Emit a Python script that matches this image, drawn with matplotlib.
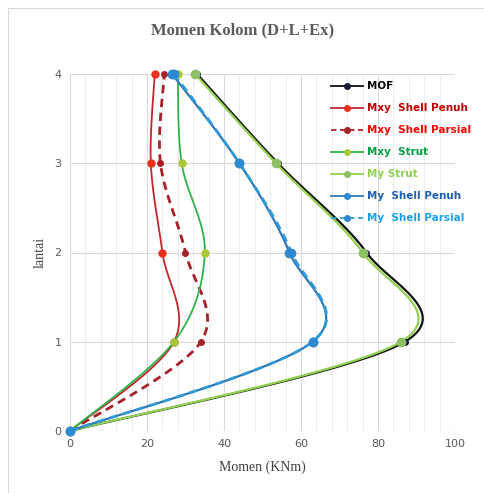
import numpy as np
import matplotlib
matplotlib.use("Agg")
import matplotlib.pyplot as plt
from matplotlib.lines import Line2D

# lantai (floor) levels
lantai = [0, 1, 2, 3, 4]

# moment values (KNm) per series
mof = [0, 87, 77, 54, 33]
mxy_shell_penuh = [0, 27, 24, 21, 22]
mxy_shell_parsial = [0, 34, 30, 23.5, 24.5]
mxy_strut = [0, 27, 35, 29, 28]
my_strut = [0, 86, 76, 53.5, 32.5]
my_shell_penuh = [0, 63, 57, 44, 26.5]
my_shell_parsial = [0, 63, 57.5, 44, 27]

labels = ["MOF", "Mxy  Shell Penuh", "Mxy  Shell Parsial", "Mxy  Strut",
          "My Strut", "My  Shell Penuh", "My  Shell Parsial"]


def smooth(x, y, n=30):
    # catmull-rom style smoothing for drawing (like excel smoothed lines)
    p = np.column_stack([x, y]).astype(float)
    p = np.vstack([p[0], p, p[-1]])
    out = []
    for i in range(1, len(p) - 2):
        p0, p1, p2, p3 = p[i - 1], p[i], p[i + 1], p[i + 2]
        c1 = p1 + (p2 - p0) / 6.0
        c2 = p2 - (p3 - p1) / 6.0
        t = np.linspace(0, 1, n)[:, None]
        seg = ((1 - t) ** 3) * p1 + 3 * ((1 - t) ** 2) * t * c1 + 3 * (1 - t) * t ** 2 * c2 + t ** 3 * p2
        out.append(seg)
    out = np.vstack(out)
    return out[:, 0], out[:, 1]


series = [
    # values, line color, marker color, linestyle, lw, msize, text color
    (mof, "#111111", "#1a1a3a", "-", 1.6, 4, "#000000"),
    (mxy_shell_penuh, "#C0262D", "#E8301C", "-", 1.3, 5, "#C00000"),
    (mxy_shell_parsial, "#A8202A", "#A8202A", (0, (3, 2)), 2.0, 4, "#FF0000"),
    (mxy_strut, "#2DB34A", "#A8C83A", "-", 1.3, 5, "#00A040"),
    (my_strut, "#92D050", "#8CC063", "-", 1.6, 6, "#92D050"),
    (my_shell_penuh, "#2E75B6", "#2E8AD0", "-", 1.6, 6, "#1F5FB0"),
    (my_shell_parsial, "#2E9AD6", "#2E8AD0", (0, (3, 2)), 2.0, 6, "#1BA0E8"),
]

fig = plt.figure(figsize=(4.85, 4.93), dpi=100)
ax = fig.add_axes([70 / 485, 1 - 431 / 493, 385 / 485, 357 / 493])

handles = []
for vals, lc, mc, ls, lw, ms, tc in series:
    sx, sy = smooth(vals, lantai)
    ax.plot(sx, sy, color=lc, lw=lw, linestyle=ls, zorder=3, clip_on=False)
    ax.plot(vals, lantai, linestyle="none", marker="o", ms=ms, color=mc,
            markeredgecolor=mc, zorder=4, clip_on=False)
    handles.append(Line2D([0], [0], color=lc, lw=1.3, linestyle=ls, marker="o",
                          ms=4, markerfacecolor=mc, markeredgecolor=mc))

ax.set_xlim(0, 100)
ax.set_ylim(0, 4)
ax.set_xticks(range(0, 101, 20))
ax.set_xticks(range(0, 101, 4), minor=True)
ax.set_yticks(lantai)
ax.grid(True, which="major", color="#d9d9d9", lw=0.8)
ax.grid(True, which="minor", axis="x", color="#ececec", lw=0.7)
ax.set_axisbelow(True)
for s in ax.spines.values():
    s.set_visible(False)
ax.tick_params(which="both", length=0, labelsize=8, labelcolor="#595959", pad=6)

ax.set_xlabel("Momen (KNm)", family="Liberation Serif", fontsize=10, color="#404040", labelpad=8)
ax.set_ylabel("lantai", family="Liberation Serif", fontsize=10, color="#404040", labelpad=6)
fig.text(0.5, 1 - 30 / 493, "Momen Kolom (D+L+Ex)", ha="center", va="center",
         family="Liberation Serif", fontsize=12, fontweight="bold", color="#595959")

leg = ax.legend(handles, labels, loc="upper left", bbox_to_anchor=(0.66, 1.0),
                frameon=False, fontsize=7.5, handlelength=3.0, labelspacing=1.15,
                handletextpad=0.4, borderaxespad=0.3)
for txt, s in zip(leg.get_texts(), series):
    txt.set_color(s[6])
    txt.set_fontweight("bold")

# faint chart frame
fig.add_artist(Line2D([8 / 485, 8 / 485], [0, 1 - 8 / 493], color="#d9d9d9", lw=0.8))
fig.add_artist(Line2D([8 / 485, 1], [1 - 8 / 493, 1 - 8 / 493], color="#d9d9d9", lw=0.8))

fig.savefig("out.png", dpi=100)
